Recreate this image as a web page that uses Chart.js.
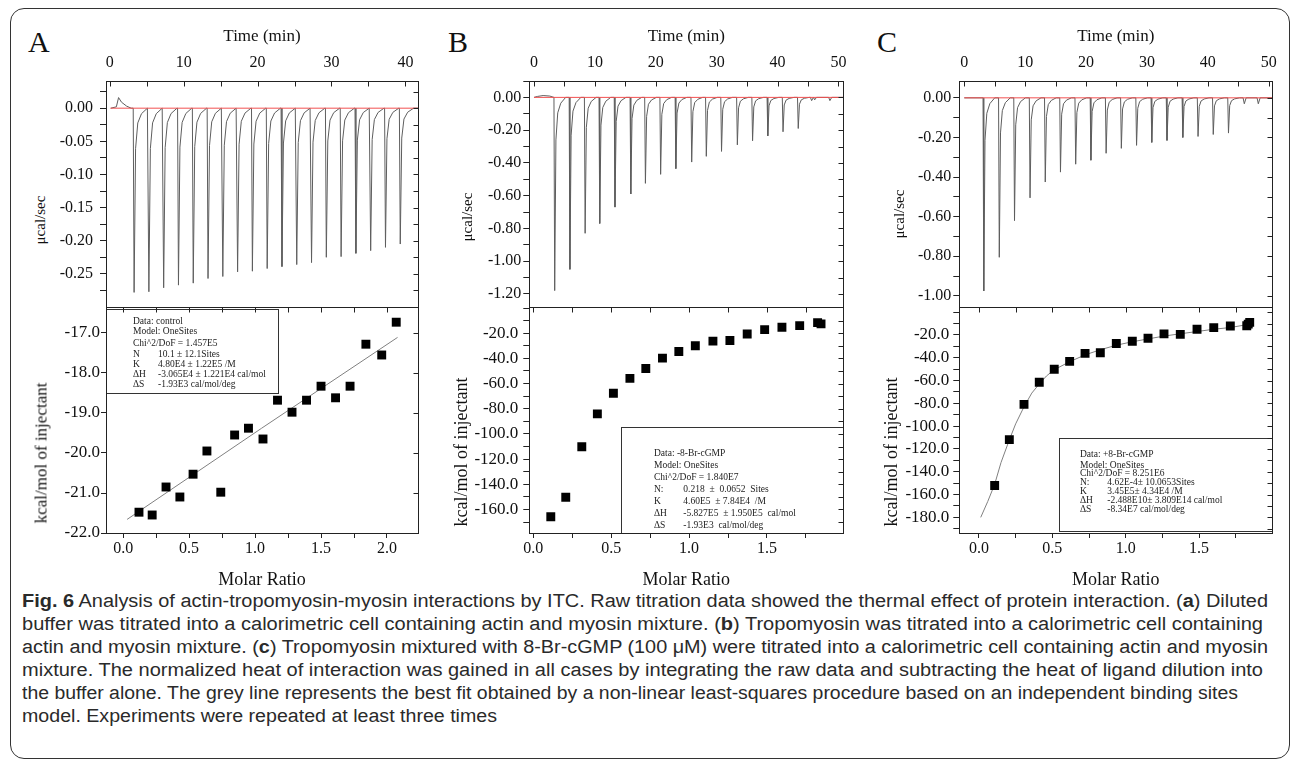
<!DOCTYPE html>
<html>
<head>
<meta charset="utf-8">
<script src="https://cdn.jsdelivr.net/npm/chart.js@4.4.0/dist/chart.umd.min.js"></script>
<style>
  body { margin: 0; background: #fff; width: 1293px; height: 764px; overflow: hidden; position: relative;
         font-family: 'Liberation Serif', 'Times New Roman', serif; color: #111; }
  #outer { position: absolute; left: 10px; top: 8px; width: 1280px; height: 751px; box-sizing: border-box;
           border: 1.5px solid #333; border-radius: 14px; }
  canvas { position: absolute; }
  .letter { position: absolute; font-size: 30px; line-height: 30px; }
  .ytitle { position: absolute; white-space: nowrap; line-height: 1; transform: translate(-50%, -50%) rotate(-90deg); z-index: 2; }
  .cap { position: absolute; left: 22px; white-space: pre; display: inline-block; transform-origin: 0 50%;
         font-family: 'Liberation Sans', 'Noto Sans', sans-serif; font-size: 18px;
         line-height: 22px; color: #2a2a2a; }
  .cap b { font-weight: bold; }
</style>
</head>
<body>
<div id="outer"></div>

<div class="letter" style="left:28px;top:27px">A</div>
<div class="letter" style="left:448px;top:27px">B</div>
<div class="letter" style="left:877px;top:27px">C</div>

<div class="ytitle" style="left:40px;top:220px;font-size:15px">μcal/sec</div>
<div class="ytitle" style="left:467px;top:217px;font-size:15px">μcal/sec</div>
<div class="ytitle" style="left:899px;top:214px;font-size:15px">μcal/sec</div>
<div class="ytitle" style="left:41px;top:453px;font-size:17px">kcal/mol of injectant</div>
<div class="ytitle" style="left:461px;top:452px;font-size:18px">kcal/mol of injectant</div>
<div class="ytitle" style="left:891px;top:452px;font-size:18px">kcal/mol of injectant</div>

<div class="cap" data-w="1246" style="top:590px"><b>Fig. 6</b> Analysis of actin-tropomyosin-myosin interactions by ITC. Raw titration data showed the thermal effect of protein interaction. (<b>a</b>) Diluted</div>
<div class="cap" data-w="1241" style="top:613px">buffer was titrated into a calorimetric cell containing actin and myosin mixture. (<b>b</b>) Tropomyosin was titrated into a calorimetric cell containing</div>
<div class="cap" data-w="1246" style="top:636px">actin and myosin mixture. (<b>c</b>) Tropomyosin mixtured with 8-Br-cGMP (100 μM) were titrated into a calorimetric cell containing actin and myosin</div>
<div class="cap" data-w="1241" style="top:659px">mixture. The normalized heat of interaction was gained in all cases by integrating the raw data and subtracting the heat of ligand dilution into</div>
<div class="cap" data-w="1216" style="top:682px">the buffer alone. The grey line represents the best fit obtained by a non-linear least-squares procedure based on an independent binding sites</div>
<div class="cap" data-w="475" style="top:705px">model. Experiments were repeated at least three times</div>

<script>
// raw titration: injection times (min) and peak heights (µcal/sec)
const injTimeA = [3.2, 5.2, 7.2, 9.2, 11.2, 13.2, 15.2, 17.2, 19.2, 21.2, 23.2, 25.2, 27.2, 29.2, 31.2, 33.2, 35.2, 37.2, 39.2];
const peakA = [-0.278, -0.277, -0.271, -0.267, -0.264, -0.257, -0.254, -0.247, -0.246, -0.242, -0.239, -0.236, -0.233, -0.225, -0.224, -0.219, -0.215, -0.210, -0.205];
const bumpA = [[0.9, 0.002], [1.2, 0.016], [1.6, 0.009], [2.3, 0.003], [2.9, 0]];

const injTimeB = [3.3, 5.8, 8.3, 10.7, 13.2, 15.8, 18.2, 20.7, 23.2, 25.8, 28.2, 30.7, 33.3, 35.8, 38.3, 40.8, 43.3];
const peakB = [-1.18, -1.05, -0.83, -0.77, -0.67, -0.59, -0.525, -0.47, -0.435, -0.395, -0.36, -0.33, -0.29, -0.265, -0.235, -0.21, -0.19];
const bumpB = [[0.6, 0.006], [1.5, 0.011], [2.6, 0.008], [45.4, 0], [45.6, -0.02], [45.9, 0], [46.1, -0.015], [46.4, 0], [48.4, 0], [48.6, -0.02], [48.9, 0]];

const injTimeC = [3.1, 5.65, 8.15, 10.7, 13.2, 15.7, 18.2, 20.7, 23.2, 25.7, 28.2, 30.7, 33.2, 35.8, 38.3, 40.8, 43.3];
const peakC = [-0.975, -0.805, -0.62, -0.505, -0.425, -0.375, -0.335, -0.315, -0.28, -0.255, -0.24, -0.225, -0.215, -0.2, -0.195, -0.185, -0.178];
const bumpC = [[45.8, 0], [46.0, -0.03], [46.3, 0], [48.1, 0], [48.3, -0.03], [48.6, 0]];

// integrated heats: molar ratio and kcal/mol of injectant
const molarA = [0.12, 0.22, 0.325, 0.43, 0.53, 0.635, 0.74, 0.845, 0.95, 1.06, 1.17, 1.28, 1.39, 1.50, 1.61, 1.72, 1.84, 1.96, 2.07];
const heatA = [-21.48, -21.55, -20.85, -21.1, -20.53, -19.95, -20.98, -19.55, -19.38, -19.65, -18.68, -18.98, -18.68, -18.33, -18.62, -18.33, -17.28, -17.55, -16.73];
const fitMolarA = [0.03, 1.05, 2.08];
const fitHeatA = [-21.66, -19.38, -17.11];

const molarB = [0.112, 0.208, 0.311, 0.411, 0.514, 0.62, 0.722, 0.829, 0.934, 1.04, 1.153, 1.262, 1.373, 1.485, 1.596, 1.71, 1.825, 1.847];
const heatB = [-165.8, -150.3, -110.2, -84.1, -67.7, -55.9, -48.0, -39.8, -34.5, -30.0, -26.3, -25.8, -20.6, -17.2, -15.3, -14.0, -11.6, -12.6];

const molarC = [0.107, 0.207, 0.307, 0.411, 0.513, 0.618, 0.723, 0.827, 0.936, 1.045, 1.152, 1.261, 1.372, 1.486, 1.6, 1.713, 1.825, 1.835, 1.845];
const heatC = [-152.0, -111.8, -80.9, -61.5, -50.1, -43.2, -36.2, -35.6, -27.5, -25.5, -22.9, -19.1, -19.5, -15.0, -13.6, -12.1, -11.9, -10.5, -9.0];
const fitMolarC = [0.012, 0.06, 0.107, 0.15, 0.207, 0.25, 0.307, 0.36, 0.411, 0.46, 0.513, 0.618, 0.723, 0.827, 0.936, 1.045, 1.152, 1.261, 1.372, 1.486, 1.6, 1.713, 1.87];
const fitHeatC = [-180, -166, -151, -132, -112, -98, -83, -71, -63, -56, -50.5, -43.5, -37.5, -33, -29, -26, -23.5, -21, -19, -17, -15, -13.5, -10];

// fit result boxes
const fitTextA = ['Data: control', 'Model: OneSites', 'Chi^2/DoF = 1.457E5',
  ['N', '10.1 ± 12.1Sites'], ['K', '4.80E4 ± 1.22E5 /M'], ['ΔH', '-3.065E4 ± 1.221E4 cal/mol'], ['ΔS', '-1.93E3 cal/mol/deg']];
const fitTextB = ['Data: -8-Br-cGMP', 'Model: OneSites', 'Chi^2/DoF = 1.840E7',
  ['N:', '0.218  ±  0.0652  Sites'], ['K', '4.60E5  ± 7.84E4  /M'], ['ΔH', '-5.827E5  ± 1.950E5  cal/mol'], ['ΔS', '-1.93E3  cal/mol/deg']];
const fitTextC = ['Data: +8-Br-cGMP', 'Model: OneSites', 'Chi^2/DoF = 8.251E6',
  ['N:', '4.62E-4± 10.0653Sites'], ['K', '3.45E5± 4.34E4 /M'], ['ΔH', '-2.488E10± 3.809E14 cal/mol'], ['ΔS', '-8.34E7 cal/mol/deg']];

Chart.defaults.font.family = "'Liberation Serif', 'Times New Roman', serif";
Chart.defaults.color = '#111';
Chart.defaults.animation = false;

// drawing template for one injection peak: [minutes after injection, fraction of peak]
const spikeShape = [[-0.02, 0], [0.1, 1], [0.3, 0.22], [0.6, 0.08], [1.1, 0.03], [1.9, 0]];

function buildTrace(start, end, times, peaks, bumps) {
  const pts = [[start, 0], [end, 0]];
  times.forEach((t, i) => spikeShape.forEach(([dt, f]) => pts.push([t + dt, peaks[i] * f])));
  bumps.forEach(b => pts.push(b));
  pts.sort((p, q) => p[0] - q[0]);
  return pts.map(p => ({ x: p[0], y: p[1] }));
}

function xy(xs, ys) { return xs.map((x, i) => ({ x: x, y: ys[i] })); }

function labeler(step, digits, lo, hi) {
  return v => {
    const k = v / step;
    if (Math.abs(k - Math.round(k)) > 1e-6) return '';
    if (v < lo - 1e-9 || v > hi + 1e-9) return '';
    if (Math.abs(v) < 1e-9) v = 0;
    return v.toFixed(digits);
  };
}

// pin an axis box to a fixed size, with no label overflow padding
function pin(prop, val) {
  return s => {
    s[prop] = val;
    s.paddingTop = 0; s.paddingBottom = 0; s.paddingLeft = 0; s.paddingRight = 0;
  };
}

// frame, inward ticks and fit box
function framePlugin(box) {
  return {
    id: 'frame',
    afterDatasetsDraw(chart) {
      if (!box) return;
      const a = chart.chartArea, ctx = chart.ctx;
      ctx.save();
      const bx = Math.round(a.left + box.x) + 0.5, by = Math.round(a.top + box.y) + 0.5;
      ctx.fillStyle = '#fff';
      ctx.fillRect(bx, by, box.w, box.h);
      ctx.strokeStyle = '#333';
      ctx.lineWidth = 1;
      ctx.strokeRect(bx, by, box.w, box.h);
      ctx.font = box.size + "px 'Liberation Serif', serif";
      ctx.fillStyle = '#222';
      ctx.textBaseline = 'middle';
      box.text.forEach((row, i) => {
        const y = a.top + box.rows[i];
        if (Array.isArray(row)) {
          ctx.fillText(row[0], a.left + box.tx, y);
          ctx.fillText(row[1], a.left + box.vx, y);
        } else {
          ctx.fillText(row, a.left + box.tx, y);
        }
      });
      ctx.restore();
    },
    afterDraw(chart) {
      const a = chart.chartArea, ctx = chart.ctx, sx = chart.scales.x, sy = chart.scales.y;
      const L = Math.round(a.left) + 0.5, R = Math.round(a.right) + 0.5;
      const T = Math.round(a.top) + 0.5, B = Math.round(a.bottom) + 0.5;
      ctx.save();
      ctx.strokeStyle = '#222';
      ctx.lineWidth = 1;
      ctx.strokeRect(L, T, R - L, B - T);
      ctx.beginPath();
      sx.ticks.forEach(t => {
        const px = Math.round(sx.getPixelForValue(t.value)) + 0.5;
        if (px > L + 1 && px < R - 1) { ctx.moveTo(px, T); ctx.lineTo(px, T + 5); }
      });
      sy.ticks.forEach(t => {
        const py = Math.round(sy.getPixelForValue(t.value)) + 0.5;
        if (py > T + 1 && py < B - 1) { ctx.moveTo(R, py); ctx.lineTo(R - 5, py); }
      });
      ctx.stroke();
      ctx.restore();
    }
  };
}

function addCanvas(left, top, w, h) {
  const c = document.createElement('canvas');
  c.width = w; c.height = h;
  c.style.left = left + 'px'; c.style.top = top + 'px';
  c.style.width = w + 'px'; c.style.height = h + 'px';
  document.body.appendChild(c);
  return c.getContext('2d');
}

function topChart(p) {
  const ctx = addCanvas(p.left, 15, p.w, 295);
  new Chart(ctx, {
    type: 'scatter',
    data: {
      datasets: [
        { data: [{ x: p.baseStart, y: 0 }, { x: p.baseEnd, y: 0 }], showLine: true, borderColor: '#f25050',
          borderWidth: 1, pointRadius: 0 },
        { data: p.trace, showLine: true, borderColor: '#5e5e5e', borderWidth: 1, pointRadius: 0 }
      ]
    },
    options: {
      responsive: false, devicePixelRatio: 1,
      layout: { autoPadding: false, padding: { left: 0, top: 0, right: p.padR, bottom: 3 } },
      plugins: { legend: { display: false }, tooltip: { enabled: false } },
      scales: {
        x: {
          type: 'linear', position: 'top', min: p.xMin, max: p.xMax,
          afterFit: pin('height', 66),
          border: { display: false },
          grid: { display: false, drawTicks: false },
          ticks: { stepSize: 5, includeBounds: false, autoSkip: false, maxRotation: 0, padding: 9,
                   font: { size: 16 }, callback: labeler(10, 0, 0, 50) },
          title: { display: true, text: 'Time (min)', font: { size: 17 }, padding: { top: 11, bottom: 0 } }
        },
        y: {
          type: 'linear', min: p.yMin, max: p.yMax,
          afterFit: pin('width', p.yW),
          border: { display: false },
          grid: { drawOnChartArea: false, drawTicks: true, tickLength: 6, color: '#222' },
          ticks: { stepSize: p.yStep, includeBounds: false, autoSkip: false, padding: p.yPad, font: { size: 16 },
                   callback: labeler(p.yMajor, 2, p.yLo, 0) }
        }
      }
    },
    plugins: [framePlugin(null)]
  });
}

function bottomChart(p) {
  const ctx = addCanvas(p.left, 300, p.w, 300);
  const sets = [{ data: p.points, pointStyle: 'rect', pointRadius: 6.3, pointBackgroundColor: '#000',
                  pointBorderWidth: 0, showLine: false }];
  if (p.fit) sets.push({ data: p.fit, showLine: true, borderColor: '#808080', borderWidth: 1, pointRadius: 0 });
  new Chart(ctx, {
    type: 'scatter',
    data: { datasets: sets },
    options: {
      responsive: false, devicePixelRatio: 1,
      layout: { autoPadding: false, padding: { left: 0, top: 7, right: p.padR, bottom: 0 } },
      plugins: { legend: { display: false }, tooltip: { enabled: false } },
      scales: {
        x: {
          type: 'linear', position: 'bottom', min: p.xMin, max: p.xMax,
          afterFit: pin('height', 67),
          border: { display: false },
          grid: { drawOnChartArea: false, drawTicks: true, tickLength: 5, color: '#222' },
          ticks: { stepSize: 0.25, includeBounds: false, autoSkip: false, maxRotation: 0, padding: 1.5,
                   font: { size: 16 }, callback: labeler(0.5, 1, 0, 2) },
          title: { display: true, text: 'Molar Ratio', font: { size: 18 }, padding: { top: 0, bottom: 9 } }
        },
        y: {
          type: 'linear', min: p.yMin, max: p.yMax,
          afterFit: pin('width', p.yW),
          border: { display: false },
          grid: { drawOnChartArea: false, drawTicks: true, tickLength: p.tickLen, color: '#222' },
          ticks: { stepSize: p.yStep, includeBounds: false, autoSkip: false, padding: p.yPad, font: { size: 17 },
                   callback: labeler(p.yMajor, 1, p.yLo, p.yHi) }
        }
      }
    },
    plugins: [framePlugin(p.box)]
  });
}

// panel A
topChart({ left: 50, w: 380, padR: 12, yW: 56, xMin: -0.5, xMax: 41.7, yMin: -0.30, yMax: 0.041,
           yStep: 0.025, yMajor: 0.05, yLo: -0.25, yPad: 7, baseStart: 0.1, baseEnd: 41.7,
           trace: buildTrace(0.15, 41.7, injTimeA, peakA, bumpA) });
bottomChart({ left: 50, w: 380, padR: 12, yW: 56, xMin: -0.13, xMax: 2.235, yMin: -22.0, yMax: -16.35,
              yStep: 1, yMajor: 1, yLo: -22, yHi: -17, yPad: 1, tickLen: 5,
              points: xy(molarA, heatA), fit: xy(fitMolarA, fitHeatA),
              box: { x: 0, y: 2, w: 172, h: 84, size: 9.5, tx: 27, vx: 52, rows: [14, 24, 36, 47, 57, 67, 77], text: fitTextA } });

// panel B
topChart({ left: 465, w: 390, padR: 11.7, yW: 64.3, xMin: -0.77, xMax: 50.8, yMin: -1.28, yMax: 0.10,
           yStep: 0.1, yMajor: 0.2, yLo: -1.2, yPad: 2, baseStart: 0, baseEnd: 50.8,
           trace: buildTrace(0, 50.8, injTimeB, peakB, bumpB) });
bottomChart({ left: 465, w: 390, padR: 11.7, yW: 64.3, xMin: -0.026, xMax: 1.99, yMin: -178.7, yMax: 0.8,
              yStep: 10, yMajor: 20, yLo: -160, yHi: -20, yPad: 5, tickLen: 6,
              points: xy(molarB, heatB), fit: null,
              box: { x: 91.7, y: 119.7, w: 222, h: 106, size: 9.5, tx: 124.7, vx: 154, rows: [146, 158, 170, 182, 194, 206, 218], text: fitTextB } });

// panel C
topChart({ left: 895, w: 390, padR: 12.7, yW: 64.3, xMin: -0.82, xMax: 50.6, yMin: -1.056, yMax: 0.085,
           yStep: 0.1, yMajor: 0.2, yLo: -1.0, yPad: 2, baseStart: 0, baseEnd: 50.6,
           trace: buildTrace(0, 50.6, injTimeC, peakC, bumpC) });
bottomChart({ left: 895, w: 390, padR: 12.7, yW: 64.3, xMin: -0.134, xMax: 1.999, yMin: -193.7, yMax: 4.5,
              yStep: 10, yMajor: 20, yLo: -180, yHi: -20, yPad: 4, tickLen: 6,
              points: xy(molarC, heatC), fit: xy(fitMolarC, fitHeatC),
              box: { x: 100, y: 131.3, w: 213, h: 93, size: 9.5, tx: 120.7, vx: 148, rows: [147, 158, 166, 175, 184, 193, 202], text: fitTextC } });

// stretch caption lines to their printed widths
document.querySelectorAll('.cap').forEach(el => {
  const w = el.getBoundingClientRect().width;
  el.style.transform = 'scaleX(' + (+el.dataset.w / w) + ')';
});
</script>
</body>
</html>
